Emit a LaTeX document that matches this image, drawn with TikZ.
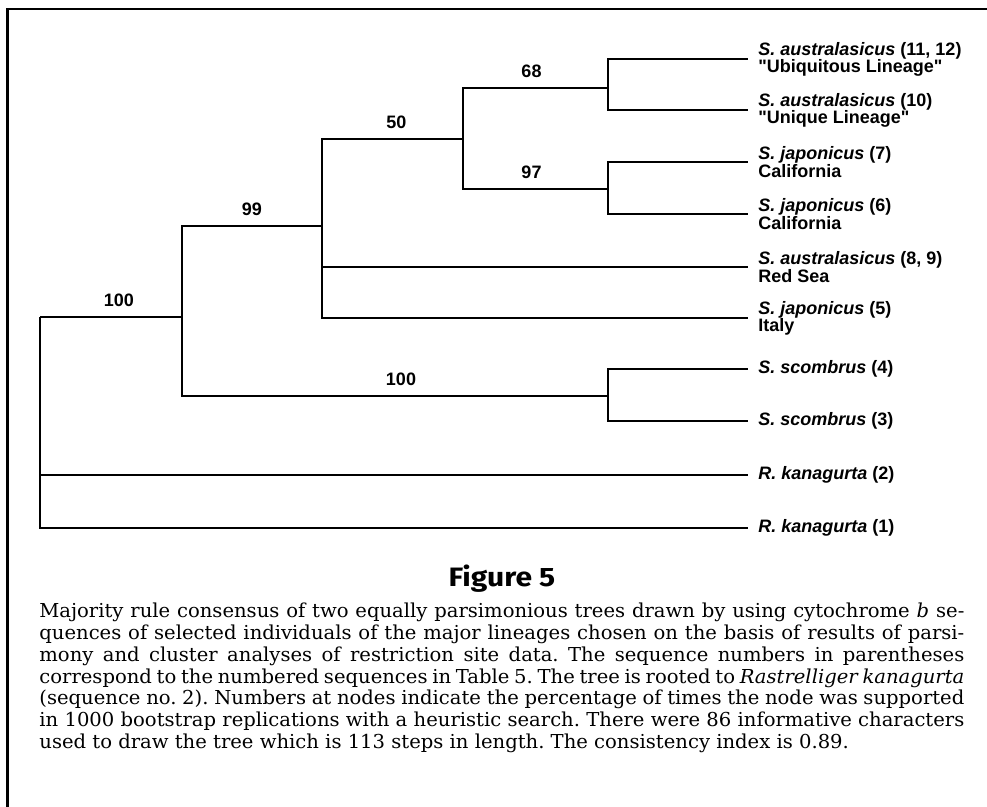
\documentclass[tikz,border=0pt]{standalone}
\usepackage{fontspec}
\setmainfont{DejaVu Serif}[FakeStretch=1.02]
\newfontfamily\labelfont{Liberation Sans}
\newfontfamily\figfont{Fira Sans}[FakeStretch=1.13]
\newcommand{\taxon}[1]{\textit{#1}}

\begin{document}
\begin{tikzpicture}[x=0.5pt,y=-0.5pt,
    branch/.style={line width=1.3pt},
    leaf/.style={anchor=west, inner xsep=5pt, inner ysep=0pt, align=left,
      font=\labelfont\bfseries\fontsize{9pt}{8.6pt}\selectfont},
    boot/.style={above=4.5pt, inner sep=0pt,
      font=\labelfont\bfseries\fontsize{9pt}{9pt}\selectfont},
    caption/.style={anchor=base west, inner sep=0pt, text width=462.5pt, align=justify,
      font=\fontsize{9.6pt}{10.85pt}\selectfont\frenchspacing}]
  \useasboundingbox (0,0) rectangle (987,807);
  \draw[line width=1.25pt] (7.5,807) -- (7.5,9) -- (987,9);
  \def\tip{748}
  % internal nodes
  \coordinate (root) at (40,317);
  \coordinate (n100b) at (182,317);
  \coordinate (n99) at (322,226);
  \coordinate (n50) at (463,139);
  \coordinate (n68) at (608,88);
  \coordinate (n97) at (608,189);
  \coordinate (n100s) at (608,396);
  % leaves
  \node[leaf] (l1) at (\tip,59) {\taxon{S. australasicus} (11, 12)\\"Ubiquitous Lineage"};
  \node[leaf] (l2) at (\tip,110) {\taxon{S. australasicus} (10)\\"Unique Lineage"};
  \node[leaf] (l3) at (\tip,162) {\taxon{S. japonicus} (7)\\California};
  \node[leaf] (l4) at (\tip,214) {\taxon{S. japonicus} (6)\\California};
  \node[leaf] (l5) at (\tip,267) {\taxon{S. australasicus} (8, 9)\\Red Sea};
  \node[leaf] (l6) at (\tip,318) {\taxon{S. japonicus} (5)\\Italy};
  \node[leaf] (l7) at (\tip,369) {\taxon{S. scombrus} (4)};
  \node[leaf] (l8) at (\tip,421) {\taxon{S. scombrus} (3)};
  \node[leaf] (l9) at (\tip,475) {\taxon{R. kanagurta} (2)};
  \node[leaf] (l10) at (\tip,528) {\taxon{R. kanagurta} (1)};
  % branches
  \draw[branch] (root) |- (n100b) node[boot,pos=0.75,xshift=4pt] {100};
  \draw[branch] (root) |- (l9.west) (root) |- (l10.west);
  \draw[branch] (n100b) |- (n99) node[boot,pos=0.75] {99};
  \draw[branch] (n100b) |- (n100s) node[boot,pos=0.75,xshift=3pt] {100};
  \draw[branch] (n99) |- (n50) node[boot,pos=0.75,xshift=2pt] {50};
  \draw[branch] (n99) |- (l5.west) (n99) |- (l6.west);
  \draw[branch] (n50) |- (n68) node[boot,pos=0.75,xshift=-2pt] {68};
  \draw[branch] (n50) |- (n97) node[boot,pos=0.75,xshift=-2pt] {97};
  \draw[branch] (n68) |- (l1.west) (n68) |- (l2.west);
  \draw[branch] (n97) |- (l3.west) (n97) |- (l4.west);
  \draw[branch] (n100s) |- (l7.west) (n100s) |- (l8.west);
  % caption
  \node[anchor=base, inner sep=0pt, font=\figfont\bfseries\fontsize{13.3pt}{15pt}\selectfont] (fig) at (502,586.5) {Figure 5};
  \node[caption] (cap) at (39,618) {Majority rule consensus of two equally parsimonious trees drawn by using cytochrome \textit{b} se-\linebreak
    quences of selected individuals of the major lineages chosen on the basis of results of parsi-\linebreak
    mony and cluster analyses of restriction site data. The sequence numbers in parentheses\linebreak
    correspond to the numbered sequences in Table 5. The tree is rooted to \textit{Rastrelliger kanagurta}\linebreak
    (sequence no. 2). Numbers at nodes indicate the percentage of times the node was supported\linebreak
    in 1000 bootstrap replications with a heuristic search. There were 86 informative characters\linebreak
    used to draw the tree which is 113 steps in length. The consistency index is 0.89.};
\end{tikzpicture}
\end{document}
